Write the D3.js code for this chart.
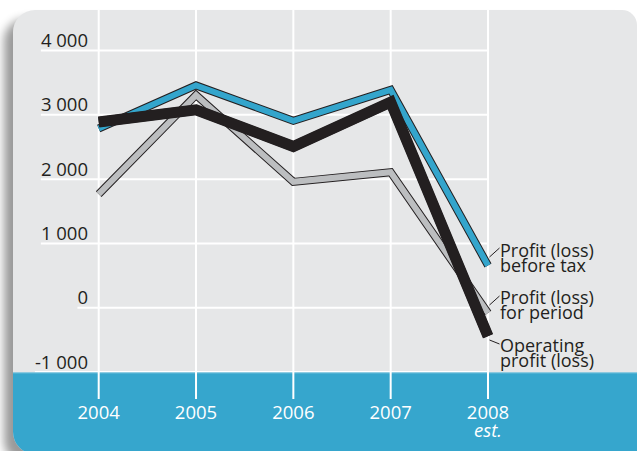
<!DOCTYPE html>
<html><head><meta charset="utf-8">
<script src="https://cdn.jsdelivr.net/npm/d3@7"></script>
<style>html,body{margin:0;padding:0;background:#fff;}svg{display:block;}</style>
</head><body>
<script>
const years = ["2004","2005","2006","2007","2008"];
const yearSub = ["","","","","est."];
const beforeTax = [2780, 3450, 2900, 3380, 650];
const forPeriod = [1760, 3300, 1950, 2100, -90];
const operating = [2880, 3070, 2500, 3190, -450];
const yTicks = [-1000, 0, 1000, 2000, 3000, 4000];
const seriesNames = [["Profit (loss)","before tax"],["Profit (loss)","for period"],["Operating","profit (loss)"]];

const W = 637, H = 451;
const svg = d3.select("body").append("svg").attr("width", W).attr("height", H);
const defs = svg.append("defs");
const f = defs.append("filter").attr("id","sh").attr("x","-20%").attr("y","-20%").attr("width","140%").attr("height","140%");
f.append("feGaussianBlur").attr("in","SourceAlpha").attr("stdDeviation",5).attr("result","b");
f.append("feOffset").attr("in","b").attr("dx",-9).attr("dy",9).attr("result","o");
f.append("feComponentTransfer").attr("in","o").append("feFuncA").attr("type","linear").attr("slope",0.4);

const L=13, T=10, R=637, B=454;
const panelPath = `M${L},${T+22} A22,22 0 0 1 ${L+22},${T} L${R-15},${T} A15,15 0 0 1 ${R},${T+15} L${R},${B} L${L+22},${B} A22,22 0 0 1 ${L},${B-22} Z`;
svg.append("path").attr("d", panelPath).attr("fill","#000").attr("filter","url(#sh)");
svg.append("path").attr("d", panelPath).attr("fill","#e6e7e8");
defs.append("clipPath").attr("id","pc").append("path").attr("d", panelPath);

const x = d3.scalePoint().domain(years).range([98.7, 488]);
const y = d3.scaleLinear().domain([-1000, 4000]).range([371.6, 50]);

const g = svg.append("g");
// y labels + horizontal gridlines
const yAxis = d3.axisLeft(y).tickValues(yTicks).tickFormat(d => d3.format(",")(d).replace(/,/g," ").replace("−","-")).tickSize(0);
const ya = g.append("g").attr("transform","translate(88,0)").call(yAxis);
ya.select(".domain").remove();
ya.selectAll("text").attr("font-family","'Open Sans', sans-serif").attr("font-size",18.5).attr("fill","#231f20")
  .attr("x",0).attr("dy",null).attr("y",-3.5).attr("dominant-baseline","auto").attr("text-anchor","end");
ya.selectAll(".tick").each(function(d){
  const t = d3.select(this).select("text");
  const w = t.node().getComputedTextLength();
  d3.select(this).insert("line","text").attr("x1",-w).attr("x2",x("2008")-88).attr("y1",0).attr("y2",0)
    .attr("stroke","#fff").attr("stroke-width",2);
});

// blue band
svg.append("rect").attr("clip-path","url(#pc)").attr("x",0).attr("y",372.5).attr("width",W).attr("height",90).attr("fill","#36a6cd");
svg.append("line").attr("x1",L).attr("x2",R).attr("y1",372.8).attr("y2",372.8).attr("stroke","#8ccbe2").attr("stroke-width",1);

// vertical gridlines
svg.append("g").selectAll("line").data(years).join("line")
  .attr("x1",d=>x(d)).attr("x2",d=>x(d)).attr("y1",T).attr("y2",399)
  .attr("stroke","#fff").attr("stroke-width",2);

// x labels
const xa = svg.append("g").attr("font-family","'Open Sans', sans-serif").attr("fill","#fff").attr("text-anchor","middle");
xa.selectAll("text.yr").data(years).join("text").attr("class","yr").attr("x",d=>x(d)).attr("y",419).attr("font-size",18.5).text(d=>d);
xa.selectAll("text.sub").data(years.map((d,i)=>[d,yearSub[i]]).filter(d=>d[1])).join("text").attr("class","sub")
  .attr("x",d=>x(d[0])).attr("y",437).attr("font-size",18.5).attr("font-style","italic").text(d=>d[1]);

// lines
const line = d3.line().x((d,i)=>x(years[i])).y(d=>y(d));
function drawSeries(vals, color, w, ow){
  svg.append("path").attr("d", line(vals)).attr("fill","none").attr("stroke","#231f20").attr("stroke-width",w+ow*2)
    .attr("stroke-linejoin","miter").attr("stroke-miterlimit",10).attr("stroke-linecap","butt");
  svg.append("path").attr("d", line(vals)).attr("fill","none").attr("stroke",color).attr("stroke-width",w)
    .attr("stroke-linejoin","miter").attr("stroke-miterlimit",10).attr("stroke-linecap","butt");
}
drawSeries(forPeriod, "#bcbec0", 6, 1);
drawSeries(beforeTax, "#34a5cc", 6, 1);
drawSeries(operating, "#231f20", 10, 0.5);

// series labels with leaders
const labelTop = [256.7, 304, 351.7];
const leaderEnd = [248, 296, 344];
const leaderStart = [257, 305, 340];
const lg = svg.append("g").attr("font-family","'Open Sans', sans-serif").attr("font-size",18).attr("fill","#231f20");
seriesNames.forEach((nm,i)=>{
  lg.append("line").attr("x1",x("2008")+1.5).attr("y1",leaderStart[i]).attr("x2",499.5).attr("y2",leaderEnd[i])
    .attr("stroke","#231f20").attr("stroke-width",1);
  const t = lg.append("text").attr("x",500).attr("y",labelTop[i]);
  nm.forEach((s,j)=> t.append("tspan").attr("x",500).attr("dy", j===0?0:15).text(s));
});
</script>
</body></html>
